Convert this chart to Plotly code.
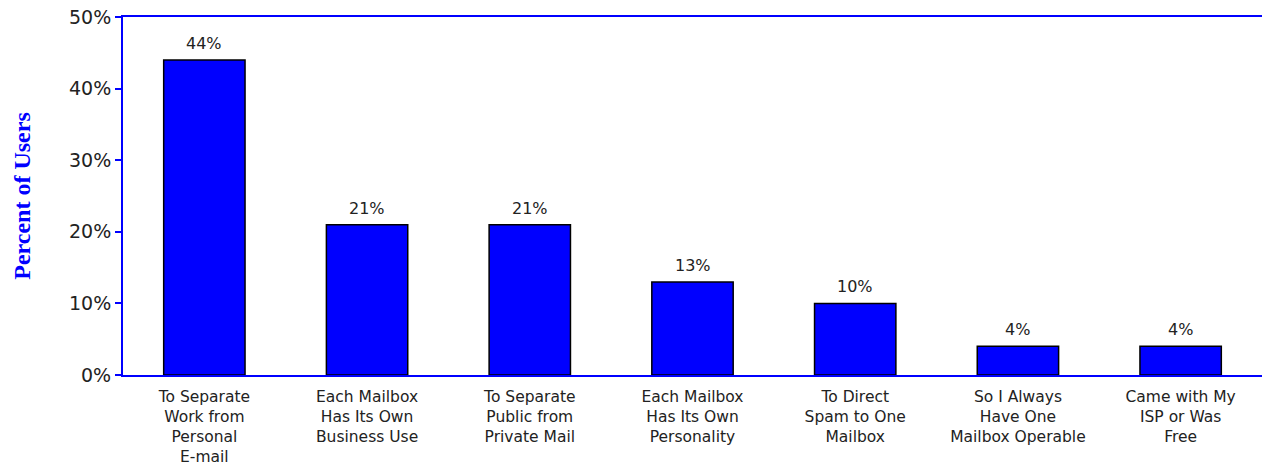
import plotly.graph_objects as go

# Reasons for using more than one mailbox
categories = [
    "To Separate<br>Work from<br>Personal<br>E-mail",
    "Each Mailbox<br>Has Its Own<br>Business Use",
    "To Separate<br>Public from<br>Private Mail",
    "Each Mailbox<br>Has Its Own<br>Personality",
    "To Direct<br>Spam to One<br>Mailbox",
    "So I Always<br>Have One<br>Mailbox Operable",
    "Came with My<br>ISP or Was<br>Free",
]
percent_users = [44, 21, 21, 13, 10, 4, 4]
y_ticks = [0, 10, 20, 30, 40, 50]
y_tick_labels = ["0%", "10%", "20%", "30%", "40%", "50%"]

BLUE = "#0000FF"
TEXT = "#222222"

fig = go.Figure()
fig.add_trace(go.Bar(
    x=categories,
    y=percent_users,
    marker=dict(color=BLUE, line=dict(color="#000000", width=1.5)),
    width=0.5,
    hoverinfo="skip",
))

# value labels above each bar
for cat, val in zip(categories, percent_users):
    fig.add_annotation(
        x=cat, y=val, text=f"{val}%", showarrow=False,
        yanchor="bottom", yshift=5,
        font=dict(family="DejaVu Sans", size=16, color=TEXT),
    )

fig.update_layout(
    width=1262, height=466,
    margin=dict(l=123, r=0, t=17, b=91),
    paper_bgcolor="white", plot_bgcolor="white",
    showlegend=False,
    xaxis=dict(
        automargin=False,
        showline=True, linecolor=BLUE, linewidth=2, mirror=True,
        ticks="outside", ticklen=6, tickcolor="rgba(0,0,0,0)",
        tickfont=dict(family="DejaVu Sans", size=15.5, color=TEXT),
        tickangle=0, showgrid=False, zeroline=False,
    ),
    yaxis=dict(
        automargin=False,
        range=[0, 50], tickmode="array", tickvals=y_ticks, ticktext=y_tick_labels,
        showline=True, linecolor=BLUE, linewidth=2, mirror=False,
        ticks="outside", ticklen=6, tickcolor=BLUE, tickwidth=2,
        tickfont=dict(family="DejaVu Sans", size=19, color=TEXT),
        showgrid=False, zeroline=False,
        title=dict(text="<b>Percent of Users</b>", standoff=32,
                   font=dict(family="Liberation Serif", size=24, color=BLUE)),
    ),
)

fig.write_html("out.html")
